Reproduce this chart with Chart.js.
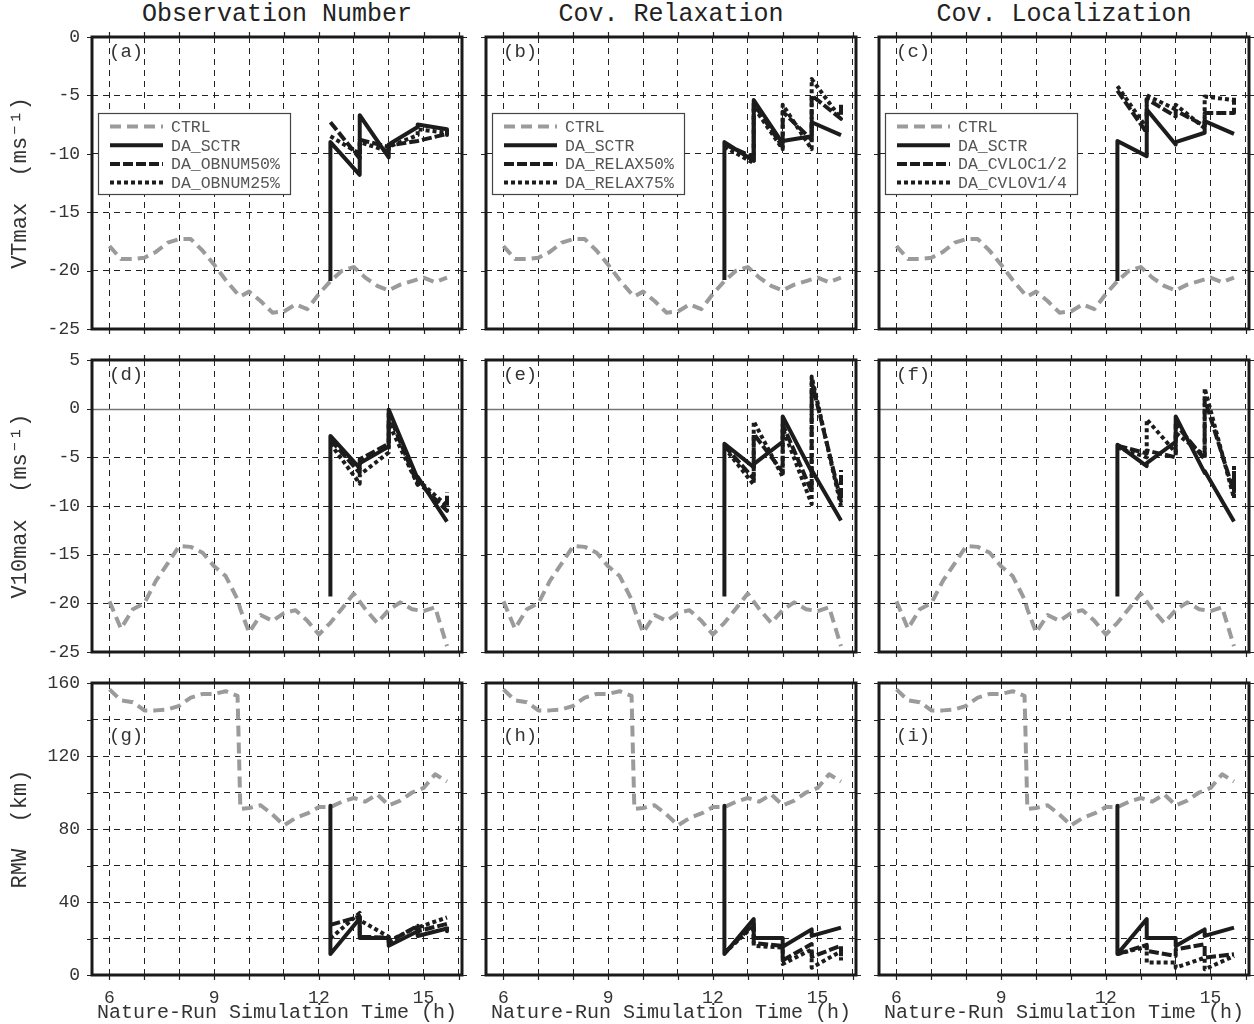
<!DOCTYPE html>
<html>
<head>
<meta charset="utf-8">
<script src="https://cdn.jsdelivr.net/npm/chart.js@4/dist/chart.umd.min.js"></script>
<style>
  body { margin: 0; background: #fff; width: 1254px; height: 1024px; position: relative; overflow: hidden; }
  canvas { position: absolute; }
  .coltitle { position: absolute; top: 0; width: 370px; line-height: 30px; text-align: center;
              font-family: "Liberation Mono", monospace; font-size: 25px; color: #222; }
</style>
</head>
<body>
<script>
// ---- data ----
// CTRL (nature run) output times (h)
const CTRL_TIME = [6, 6.33, 6.67, 7, 7.33, 7.67, 8, 8.33, 8.67, 9, 9.33, 9.67, 9.75, 10, 10.33, 10.67,
  11, 11.33, 11.67, 12, 12.33, 12.67, 13, 13.33, 13.67, 14, 14.33, 14.67, 15, 15.33, 15.67];
const ctrlVT = [-17.9, -19.0, -19.0, -18.9, -18.4, -17.6, -17.3, -17.3, -18.3, -19.5, -20.8, -22.0, -22.2, -21.8, -22.6, -23.6,
  -23.5, -22.9, -23.3, -22.0, -20.9, -20.0, -19.7, -20.6, -21.3, -21.7, -21.2, -20.9, -20.6, -21.0, -20.6];
const ctrlV10 = [-19.8, -22.6, -20.6, -20.0, -17.7, -15.9, -14.1, -14.2, -14.8, -16.2, -17.2, -19.6, -20.6, -23.0, -21.2, -21.8,
  -21.0, -20.7, -21.8, -23.2, -22.0, -20.5, -19.0, -20.6, -22.0, -20.7, -19.9, -20.6, -20.8, -20.4, -24.4];
const ctrlRMW = [156.5, 150.5, 149.5, 145, 145, 145.5, 147.5, 152, 154, 154, 155.5, 153, 91, 91.5, 93, 88,
  82, 86, 88.5, 92, 92, 95, 97, 95, 99, 93, 95.5, 100, 102.5, 110, 106];

// DA cycles: forecast end / analysis pairs (h)
const DA_TIME = [12.33, 12.33, 13.17, 13.17, 14.0, 14.0, 14.83, 14.83, 15.67, 15.67];

// VTmax
const sctrA    = [-20.9, -9.0, -11.8, -6.7, -10.3, -9.2, -7.7, -7.5, -7.9, -8.4];
const obnum50A = [-7.3, -7.3, -10.4, -8.8, -9.4, -9.3, -8.9, -8.9, -8.3, -8.3];
const obnum25A = [-8.5, -8.5, -10.0, -9.0, -9.8, -9.4, -8.4, -7.9, -8.2, -8.2];
const sctrB    = [-20.8, -9.0, -10.6, -5.4, -9.1, -8.9, -8.5, -7.3, -8.4, -8.4];
const relax50B = [-9.2, -9.2, -10.3, -5.7, -9.4, -6.4, -8.8, -5.0, -7.0, -5.6];
const relax75B = [-9.4, -9.4, -10.8, -6.0, -9.6, -5.8, -9.6, -3.6, -7.0, -7.0];
const sctrC    = [-20.9, -8.9, -10.2, -6.2, -9.2, -9.0, -8.2, -7.2, -8.3, -8.3];
const cvloc2C  = [-4.6, -4.6, -8.2, -5.3, -6.8, -6.3, -7.6, -6.5, -6.5, -5.2];
const cvloc4C  = [-4.2, -4.2, -7.8, -5.0, -6.2, -5.8, -7.8, -5.1, -5.4, -5.4];
// V10max
const sctrD    = [-19.3, -2.8, -6.1, -5.6, -3.9, -0.1, -7.2, -7.0, -11.6, -11.6];
const obnum50D = [-3.2, -3.2, -6.6, -5.2, -3.6, -0.5, -7.8, -7.5, -10.5, -8.6];
const obnum25D = [-3.6, -3.6, -7.7, -6.8, -4.5, -1.5, -7.8, -7.3, -10.0, -10.0];
const sctrE    = [-19.3, -3.6, -6.0, -5.7, -3.4, -0.8, -6.5, -6.3, -11.5, -11.5];
const relax50E = [-3.8, -3.8, -7.2, -2.6, -6.5, -1.6, -8.5, 2.8, -9.5, -6.3];
const relax75E = [-4.0, -4.0, -7.8, -1.3, -7.0, -2.0, -9.8, 3.3, -10.0, -10.0];
const sctrF    = [-19.3, -3.7, -5.9, -5.6, -3.4, -0.8, -6.6, -6.4, -11.6, -11.6];
const cvloc2F  = [-3.8, -3.8, -4.6, -4.3, -5.0, -1.6, -5.2, 1.0, -8.6, -6.4];
const cvloc4F  = [-4.0, -4.0, -5.0, -1.1, -4.5, -2.5, -4.8, 2.1, -9.2, -5.8];
// RMW
const sctrG    = [92.8, 11.5, 31.0, 20.3, 20.3, 16.0, 24.0, 21.4, 25.5, 24.0];
const obnum50G = [27.5, 27.5, 32.0, 21.0, 20.5, 18.0, 27.0, 24.0, 28.0, 24.5];
const obnum25G = [20.0, 20.0, 34.0, 30.0, 21.0, 18.5, 26.5, 26.0, 31.5, 31.5];
const sctrH    = [92.8, 11.5, 30.6, 20.3, 20.3, 15.5, 25.0, 21.4, 26.0, 26.0];
const relax50H = [12.0, 12.0, 28.0, 17.5, 16.0, 8.0, 17.0, 10.0, 16.0, 10.0];
const relax75H = [12.0, 12.0, 27.0, 16.0, 15.0, 6.0, 14.0, 4.0, 13.0, 8.0];
const sctrI    = [92.8, 11.5, 30.6, 20.3, 20.3, 15.9, 25.0, 21.4, 26.0, 26.0];
const cvloc2I  = [11.5, 11.5, 16.5, 13.2, 10.4, 14.1, 16.8, 9.5, 11.4, 11.4];
const cvloc4I  = [11.5, 11.5, 15.5, 6.8, 6.8, 4.0, 9.5, 3.1, 10.4, 10.4];

// axis ticks
const X_GRID = [6, 7, 8, 9, 10, 11, 12, 13, 14, 15, 16];
const X_LABELS = [6, 9, 12, 15];
const Y_GRID_VT = [-25, -20, -15, -10, -5, 0];
const Y_GRID_V10 = [-25, -20, -15, -10, -5, 0, 5];
const Y_GRID_RMW = [0, 20, 40, 60, 80, 100, 120, 140, 160];
const Y_LABELS_RMW = [0, 40, 80, 120, 160];

// ---- layout ----
const COL_LEFT = [92, 486, 879];
const ROW_TOP = [37, 360, 683];
const PLOT_W = 370, PLOT_H = 292;
const FONT = '"Liberation Mono", monospace';

const ROWS = [
  { ylabel: 'VTmax  (ms⁻¹)', min: -25, max: 0, grid: Y_GRID_VT, labels: Y_GRID_VT, ctrl: ctrlVT, zero: false },
  { ylabel: 'V10max  (ms⁻¹)', min: -25, max: 5, grid: Y_GRID_V10, labels: Y_GRID_V10, ctrl: ctrlV10, zero: true },
  { ylabel: 'RMW  (km)', min: 0, max: 160, grid: Y_GRID_RMW, labels: Y_LABELS_RMW, ctrl: ctrlRMW, zero: false }
];
const COLS = [
  { title: 'Observation Number', names: ['DA_OBNUM50%', 'DA_OBNUM25%'] },
  { title: 'Cov. Relaxation', names: ['DA_RELAX50%', 'DA_RELAX75%'] },
  { title: 'Cov. Localization', names: ['DA_CVLOC1/2', 'DA_CVLOV1/4'] }
];
const PANELS = [
  [{ tag: '(a)', sctr: sctrA, dash: obnum50A, dot: obnum25A },
   { tag: '(b)', sctr: sctrB, dash: relax50B, dot: relax75B },
   { tag: '(c)', sctr: sctrC, dash: cvloc2C, dot: cvloc4C }],
  [{ tag: '(d)', sctr: sctrD, dash: obnum50D, dot: obnum25D },
   { tag: '(e)', sctr: sctrE, dash: relax50E, dot: relax75E },
   { tag: '(f)', sctr: sctrF, dash: cvloc2F, dot: cvloc4F }],
  [{ tag: '(g)', sctr: sctrG, dash: obnum50G, dot: obnum25G },
   { tag: '(h)', sctr: sctrH, dash: relax50H, dot: relax75H },
   { tag: '(i)', sctr: sctrI, dash: cvloc2I, dot: cvloc4I }]
];

const GRAY = '#9b9b9b';
const BLACK = '#1c1c1c';

Chart.defaults.font.family = FONT;

const toXY = (xs, ys) => xs.map((x, i) => ({ x: x, y: ys[i] }));

// frame, tick marks, zero line, panel tag and legend
const decoPlugin = {
  id: 'deco',
  beforeDatasetsDraw(chart, args, opts) {
    if (!opts.zero) return;
    const { ctx, chartArea: a, scales: { y } } = chart;
    const py = Math.round(y.getPixelForValue(0)) + 0.5;
    ctx.save();
    ctx.strokeStyle = '#777';
    ctx.lineWidth = 1.3;
    ctx.beginPath();
    ctx.moveTo(a.left, py);
    ctx.lineTo(a.right, py);
    ctx.stroke();
    ctx.restore();
  },
  afterDraw(chart, args, opts) {
    const { ctx, chartArea: a, scales: { x, y } } = chart;
    ctx.save();
    // tick marks on all four sides
    ctx.strokeStyle = '#222';
    ctx.lineWidth = 1.2;
    ctx.setLineDash([]);
    ctx.beginPath();
    x.ticks.forEach(t => {
      const px = Math.round(x.getPixelForValue(t.value)) + 0.5;
      ctx.moveTo(px, a.bottom); ctx.lineTo(px, a.bottom + 5);
      ctx.moveTo(px, a.top - 5); ctx.lineTo(px, a.top);
    });
    y.ticks.forEach(t => {
      const py = Math.round(y.getPixelForValue(t.value)) + 0.5;
      ctx.moveTo(a.left - 5, py); ctx.lineTo(a.left, py);
      ctx.moveTo(a.right, py); ctx.lineTo(a.right + 5, py);
    });
    ctx.stroke();

    // thick frame
    ctx.strokeStyle = '#1a1a1a';
    ctx.lineWidth = 3;
    ctx.strokeRect(a.left, a.top, a.right - a.left, a.bottom - a.top);

    // panel tag
    ctx.fillStyle = '#333';
    ctx.font = '19px ' + FONT;
    ctx.textBaseline = 'middle';
    ctx.textAlign = 'left';
    ctx.fillText(opts.tag, a.left + 17, a.top + opts.tagY);

    // legend inside the top row panels
    if (opts.legend) {
      const bx = a.left + 6, by = a.top + 76, bw = 192, bh = 81;
      ctx.fillStyle = '#fff';
      ctx.fillRect(bx, by, bw, bh);
      ctx.strokeStyle = '#444';
      ctx.lineWidth = 1.2;
      ctx.strokeRect(bx + 0.5, by + 0.5, bw, bh);
      ctx.font = '16.5px ' + FONT;
      opts.legend.forEach((i, row) => {
        const ds = chart.data.datasets[i];
        const ly = by + 13.5 + row * 18.7;
        ctx.strokeStyle = ds.borderColor;
        ctx.lineWidth = ds.borderWidth;
        ctx.setLineDash(ds.borderDash || []);
        ctx.beginPath();
        ctx.moveTo(bx + 12, ly);
        ctx.lineTo(bx + 65, ly);
        ctx.stroke();
        ctx.setLineDash([]);
        ctx.fillStyle = '#555';
        ctx.fillText(ds.label, bx + 73, ly + 1);
      });
    }
    ctx.restore();
  }
};

function makePanel(r, c) {
  const row = ROWS[r], col = COLS[c], p = PANELS[r][c];
  const padL = c === 0 ? 92 : 10;
  const padR = 10, padT = 12;
  const padB = r === 2 ? 50 : 10;

  const canvas = document.createElement('canvas');
  canvas.width = PLOT_W + padL + padR;
  canvas.height = PLOT_H + padT + padB;
  canvas.style.left = (COL_LEFT[c] - padL) + 'px';
  canvas.style.top = (ROW_TOP[r] - padT) + 'px';
  document.body.appendChild(canvas);

  const line = (label, data, color, width, dash, order) => ({
    label: label, data: data, borderColor: color, borderWidth: width, borderDash: dash,
    order: order, pointRadius: 0, tension: 0, fill: false, borderJoinStyle: 'round'
  });

  new Chart(canvas, {
    type: 'line',
    data: {
      datasets: [
        line('CTRL', toXY(CTRL_TIME, row.ctrl), GRAY, 4, [11, 6], 4),
        line('DA_SCTR', toXY(DA_TIME, p.sctr), BLACK, 4, [], 3),
        line(col.names[0], toXY(DA_TIME, p.dash), BLACK, 4, [10, 3], 2),
        line(col.names[1], toXY(DA_TIME, p.dot), BLACK, 4, [4, 3], 1)
      ]
    },
    options: {
      responsive: false,
      animation: false,
      devicePixelRatio: 1,
      layout: { padding: { top: padT, right: padR, left: 0, bottom: 0 } },
      plugins: {
        legend: { display: false },
        tooltip: { enabled: false },
        deco: {
          tag: p.tag,
          tagY: r === 2 ? 53 : 14.5,
          zero: row.zero,
          legend: r === 0 ? [0, 1, 2, 3] : null
        }
      },
      scales: {
        x: {
          type: 'linear',
          min: 5.5,
          max: 16.1,
          afterBuildTicks: s => { s.ticks = X_GRID.map(v => ({ value: v })); },
          afterFit: s => { s.height = padB; s.paddingLeft = 0; s.paddingRight = 0; },
          grid: { color: '#222', lineWidth: 1, drawTicks: false },
          border: { display: false, dash: [6, 5] },
          ticks: {
            display: r === 2,
            autoSkip: false,
            maxRotation: 0,
            padding: 12,
            color: '#333',
            font: { size: 18 },
            callback: v => X_LABELS.includes(v) ? String(v) : ''
          },
          title: {
            display: r === 2,
            text: 'Nature-Run Simulation Time (h)',
            color: '#333',
            font: { size: 20 },
            padding: { top: 0, bottom: 0 }
          }
        },
        y: {
          type: 'linear',
          min: row.min,
          max: row.max,
          afterBuildTicks: s => { s.ticks = row.grid.map(v => ({ value: v })); },
          afterFit: s => { s.width = padL; s.paddingTop = 0; s.paddingBottom = 0; },
          grid: {
            color: ctx => (row.zero && ctx.tick && ctx.tick.value === 0) ? 'rgba(0,0,0,0)' : '#222',
            lineWidth: 1,
            drawTicks: false
          },
          border: { display: false, dash: [6, 5] },
          ticks: {
            display: c === 0,
            autoSkip: false,
            padding: 12,
            color: '#333',
            font: { size: 18 },
            callback: v => row.labels.includes(v) ? String(v) : ''
          },
          title: {
            display: c === 0,
            text: row.ylabel,
            color: '#333',
            font: { size: 22 },
            padding: { top: 7, bottom: 0 }
          }
        }
      }
    },
    plugins: [decoPlugin]
  });
}

COLS.forEach((col, c) => {
  const d = document.createElement('div');
  d.className = 'coltitle';
  d.style.left = COL_LEFT[c] + 'px';
  d.textContent = col.title;
  document.body.appendChild(d);
});

for (let r = 0; r < 3; r++) {
  for (let c = 0; c < 3; c++) makePanel(r, c);
}
</script>
</body>
</html>
